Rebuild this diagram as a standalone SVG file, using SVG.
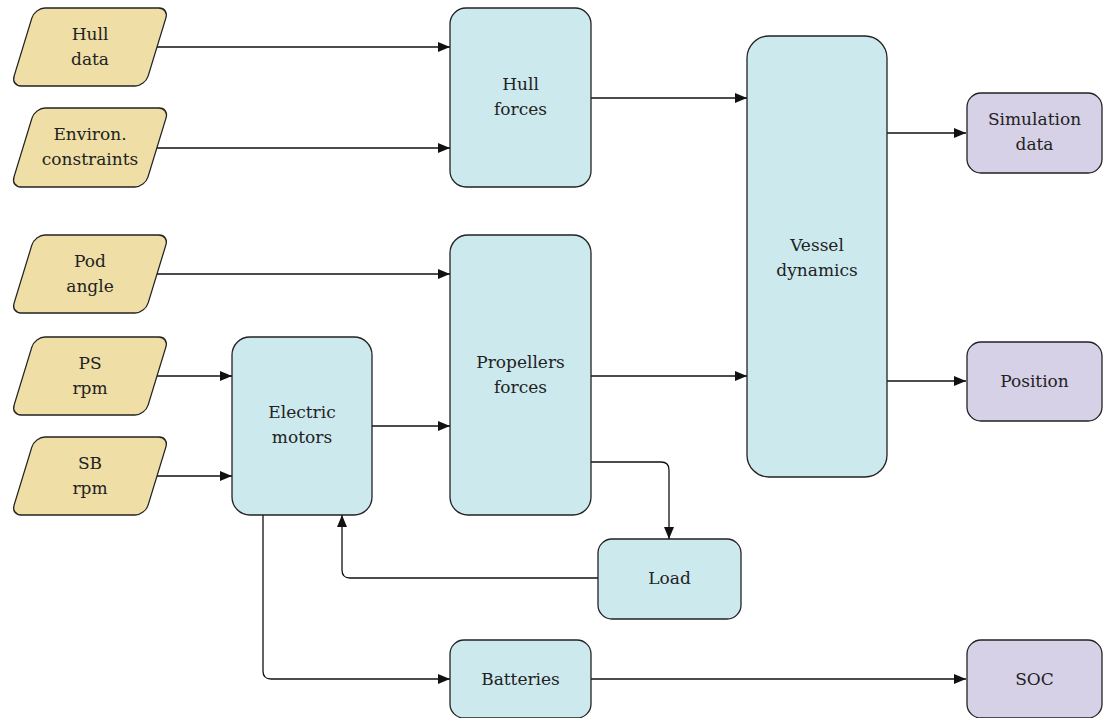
<svg xmlns="http://www.w3.org/2000/svg" width="1103" height="718" viewBox="0 0 1103 718" font-family="'DejaVu Serif', 'Liberation Serif', serif">
<defs>
<marker id="arr" viewBox="0 0 12 10" refX="12" refY="5" markerWidth="12" markerHeight="10" markerUnits="userSpaceOnUse" orient="auto">
<path d="M0,0 L12,5 L0,10 z" fill="#111"/>
</marker>
</defs>
<style>
.in{fill:#efdfa6;stroke:#222;stroke-width:1.3}
.pr{fill:#cce9ee;stroke:#222;stroke-width:1.3}
.out{fill:#d6d1e7;stroke:#222;stroke-width:1.3}
.t{font-size:17px;fill:#222;text-anchor:middle}
.c{fill:none;stroke:#111;stroke-width:1.3;marker-end:url(#arr)}
</style>
<rect width="1103" height="718" fill="#fff"/>
<g id="connectors">
<path class="c" d="M156,47 H450"/>
<path class="c" d="M156,148 H450"/>
<path class="c" d="M591,98 H747"/>
<path class="c" d="M887,133 H966"/>
<path class="c" d="M156,274 H450"/>
<path class="c" d="M156,376 H232"/>
<path class="c" d="M156,476 H232"/>
<path class="c" d="M372,426 H450"/>
<path class="c" d="M591,376 H747"/>
<path class="c" d="M887,381 H966"/>
<path class="c" d="M591,462 H661 Q669,462 669,470 V539"/>
<path class="c" d="M598,578 H350 Q342,578 342,570 V515"/>
<path class="c" d="M263,515 V671 Q263,679 271,679 H450"/>
<path class="c" d="M591,679 H966"/>
</g>
<g id="hull-data">
<rect class="in" transform="translate(90,47) skewX(-17)" x="-67" y="-39" width="134" height="78" rx="10"/>
<text class="t" x="90" y="40">Hull</text><text class="t" x="90" y="65">data</text>
</g>
<g id="environ">
<rect class="in" transform="translate(90,147.5) skewX(-17)" x="-67" y="-39.5" width="134" height="79" rx="10"/>
<text class="t" x="90" y="140">Environ.</text><text class="t" x="90" y="165">constraints</text>
</g>
<g id="pod-angle">
<rect class="in" transform="translate(90,274) skewX(-17)" x="-67" y="-39" width="134" height="78" rx="10"/>
<text class="t" x="90" y="267">Pod</text><text class="t" x="90" y="292">angle</text>
</g>
<g id="ps-rpm">
<rect class="in" transform="translate(90,376) skewX(-17)" x="-67" y="-39" width="134" height="78" rx="10"/>
<text class="t" x="90" y="369">PS</text><text class="t" x="90" y="394">rpm</text>
</g>
<g id="sb-rpm">
<rect class="in" transform="translate(90,476) skewX(-17)" x="-67" y="-39" width="134" height="78" rx="10"/>
<text class="t" x="90" y="469">SB</text><text class="t" x="90" y="494">rpm</text>
</g>
<g id="hull-forces">
<rect class="pr" x="450" y="8" width="141" height="179" rx="16"/>
<text class="t" x="520.5" y="90">Hull</text><text class="t" x="520.5" y="115">forces</text>
</g>
<g id="propellers-forces">
<rect class="pr" x="450" y="235" width="141" height="280" rx="18"/>
<text class="t" x="520.5" y="368">Propellers</text><text class="t" x="520.5" y="393">forces</text>
</g>
<g id="electric-motors">
<rect class="pr" x="232" y="337" width="140" height="178" rx="18"/>
<text class="t" x="302" y="418">Electric</text><text class="t" x="302" y="443">motors</text>
</g>
<g id="vessel-dynamics">
<rect class="pr" x="747" y="36" width="140" height="441" rx="22"/>
<text class="t" x="817" y="251">Vessel</text><text class="t" x="817" y="276">dynamics</text>
</g>
<g id="load">
<rect class="pr" x="598" y="539" width="143" height="80" rx="14"/>
<text class="t" x="669.5" y="584">Load</text>
</g>
<g id="batteries">
<rect class="pr" x="450" y="640" width="141" height="78" rx="14"/>
<text class="t" x="520.5" y="685">Batteries</text>
</g>
<g id="simulation-data">
<rect class="out" x="967" y="93" width="135" height="80" rx="14"/>
<text class="t" x="1034.5" y="125">Simulation</text><text class="t" x="1034.5" y="150">data</text>
</g>
<g id="position">
<rect class="out" x="967" y="342" width="135" height="79" rx="14"/>
<text class="t" x="1034.5" y="387">Position</text>
</g>
<g id="soc">
<rect class="out" x="967" y="640" width="135" height="78" rx="14"/>
<text class="t" x="1034.5" y="685">SOC</text>
</g>
</svg>
